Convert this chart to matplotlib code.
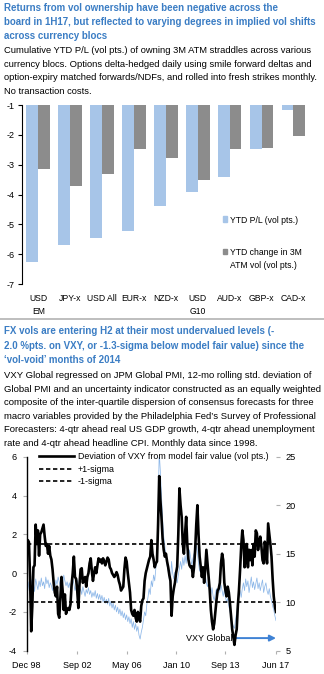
import matplotlib
matplotlib.use('Agg')
import matplotlib.pyplot as plt
from matplotlib.lines import Line2D
from matplotlib.patches import Rectangle
import numpy as np

plt.rcParams['font.family'] = ['Liberation Sans', 'DejaVu Sans']
plt.rcParams['axes.unicode_minus'] = False

W, H = 324, 674
TITLE_BLUE = '#3b7dc4'
LIGHT_BLUE = '#a7c5e8'
GREY_BAR = '#8c8c8c'
VXY_BLUE = '#8db7e8'
ARROW_BLUE = '#3f82d4'

# --- straddle P/L by currency bloc ---
blocs = ['USD\nEM', 'JPY-x', 'USD All', 'EUR-x', 'NZD-x', 'USD\nG10', 'AUD-x', 'GBP-x', 'CAD-x']
ytd_pl = [-6.25, -5.7, -5.45, -5.22, -4.38, -3.92, -3.4, -2.47, -1.17]
ytd_vol_chg = [-3.15, -3.7, -3.3, -2.48, -2.78, -3.52, -2.46, -2.44, -2.04]
bar_labels = ['YTD P/L (vol pts.)', 'YTD change in 3M\nATM vol (vol pts.)']

# --- VXY deviation from model fair value, monthly Dec 1998 .. Jun 2017 ---
vxy_dev = [
    1.7, 1.7, 1.6, -0.2, -3.0, -1.7, 0.3, 0.4, 2.5, 1.5, 2.2, 0.9,
    2.0, 2.1, 2.3, 2.5, 1.9, 1.4, 1.5, 1.0, 1.4, 0.9, 0.7, 0.2,
    -0.5, -1.0, -1.2, -0.7, -2.1, -2.3, -1.2, -0.2, -0.9, -1.9, -1.1, -2.1,
    -1.9, -1.8, -1.9, -1.6, -0.6, 0.0, 0.85, -0.2, -0.3, -0.9, -1.8, -0.6,
    0.2, 0.25, -0.5, -0.3, -0.2, -0.7, -0.2, 0.0, 0.5, 0.76, 0.1, -0.4,
    0.0, 0.3, 0.0, 0.4, 0.76, 0.6, 0.7, 0.5, 0.76, 0.6, 0.4, 0.6,
    0.8, 0.7, 0.3, 0.2, 0.0, -0.1, -0.2, -0.1, 0.05, -0.1, -0.4, -0.6,
    -0.9, -0.8, -0.7, 0.2, 0.8, 0.6, 0.0, -0.5, -1.0, -1.9, -2.1, -2.2,
    -1.9, -2.3, -2.5, -2.0, -2.3, -2.5, -1.7, -1.4, -1.3, -0.4, 0.0, 0.24,
    0.5, 0.7, 0.85, 1.7, 1.0, 0.7, 0.3, 0.5, 0.6, 2.5, 5.0, 3.8,
    2.9, 1.8, 1.2, 0.85, 1.0, 0.6, 0.3, -0.1, -0.4, -2.2, -1.2, -0.8,
    -0.5, 0.0, 0.33, 2.0, 4.37, 3.5, 2.9, 1.5, 1.0, 2.0, 2.9, 1.5,
    0.7, 0.4, 0.3, 0.35, -0.2, 0.3, 1.2, 2.5, 3.5, 2.0, 0.85, 0.3,
    -0.2, 0.3, -0.5, 0.2, 1.2, 0.5, -0.2, -0.9, -1.9, -2.5, -2.9, -2.6,
    -2.0, -1.4, -0.9, -0.8, -0.5, 0.5, 1.0, 0.67, -0.5, -0.9, -1.2, -0.7,
    -1.0, -1.56, -2.2, -2.9, -3.3, -3.7, -3.2, -2.9, -1.7, -0.9, 0.16, 1.36,
    2.2, 1.7, 0.3, 0.85, 1.5, 0.3, 1.2, 0.67, 1.19, 0.4, 1.5, 0.85,
    2.2, 2.05, 1.19, 1.6, 1.88, 1.36, 0.67, 0.5, 1.62, 1.2, 0.5, 2.56,
    2.05, 1.5, 0.85, -0.3, -1.2, -1.73, -2.0,
]

# --- VXY Global level (right axis) ---
vxy_level = [
    11.6, 11.2, 12.1, 11.4, 12.3, 11.7, 12.0, 11.1, 12.4, 11.8, 11.3, 12.2,
    11.6, 12.5, 11.7, 12.1, 11.4, 12.6, 11.9, 12.3, 11.5, 12.0, 11.7, 11.2,
    12.0, 11.5, 12.3, 11.8, 12.6, 12.1, 11.6, 12.4, 11.9, 12.8, 12.2, 11.7,
    12.1, 11.5, 12.0, 11.3, 11.8, 12.4, 11.9, 11.2, 11.6, 12.3, 11.8, 11.0,
    11.4, 10.8, 11.6, 11.1, 10.6, 11.3, 10.9, 11.5, 10.8, 11.2, 10.5, 11.0,
    10.6, 11.2, 10.4, 10.9, 10.3, 10.8, 10.2, 10.7, 10.0, 10.5, 9.9, 10.3,
    9.8, 10.4, 9.6, 10.1, 9.4, 9.9, 9.2, 9.7, 9.0, 9.5, 8.8, 9.3,
    8.6, 9.1, 8.4, 8.9, 8.2, 8.7, 8.0, 8.5, 7.8, 8.3, 7.4, 8.0,
    7.2, 7.8, 7.0, 7.5, 6.6, 6.2, 6.9, 7.4, 8.2, 9.0, 8.6, 9.8,
    10.5, 11.4, 10.8, 12.2, 11.6, 12.8, 12.2, 13.5, 15.0, 19.5, 25.5, 23.5,
    21.0, 18.6, 16.8, 15.8, 14.6, 13.8, 13.2, 12.4, 12.0, 14.2, 13.0, 12.4,
    13.1, 12.5, 12.0, 12.8, 13.5, 14.2, 13.4, 14.6, 13.8, 14.8, 14.0, 15.2,
    14.4, 15.4, 14.6, 13.8, 14.5, 15.0, 14.2, 16.0, 15.2, 14.0, 13.2, 13.8,
    12.8, 13.4, 12.4, 12.9, 12.0, 11.6, 12.2, 11.2, 10.8, 11.5, 10.6, 10.2,
    10.9, 11.4, 10.7, 11.6, 11.0, 11.8, 11.2, 10.6, 11.3, 10.5, 10.0, 10.4,
    9.6, 9.0, 8.5, 7.9, 7.5, 7.3, 8.2, 9.0, 9.8, 10.6, 11.2, 10.5,
    11.4, 12.0, 11.2, 12.4, 11.6, 12.2, 11.0, 11.8, 12.6, 11.5, 12.1, 11.3,
    11.9, 12.5, 11.4, 12.0, 11.2, 11.8, 12.3, 11.0, 11.6, 12.0, 11.2, 10.8,
    11.4, 10.6, 10.2, 9.6, 9.2, 8.6, 8.1,
]

sigma_band = 1.5
date_ticks = [0, 45, 89, 133, 177, 222]
date_labels = ['Dec 98', 'Sep 02', 'May 06', 'Jan 10', 'Sep 13', 'Jun 17']

title1 = ['Returns from vol ownership have been negative across the',
          'board in 1H17, but reflected to varying degrees in implied vol shifts',
          'across currency blocs']
sub1 = ['Cumulative YTD P/L (vol pts.) of owning 3M ATM straddles across various',
        'currency blocs. Options delta-hedged daily using smile forward deltas and',
        'option-expiry matched forwards/NDFs, and rolled into fresh strikes monthly.',
        'No transaction costs.']
title2 = ['FX vols are entering H2 at their most undervalued levels (-',
          '2.0 %pts. on VXY, or -1.3-sigma below model fair value) since the',
          '\u2018vol-void\u2019 months of 2014']
sub2 = ['VXY Global regressed on JPM Global PMI, 12-mo rolling std. deviation of',
        'Global PMI and an uncertainty indicator constructed as an equally weighted',
        'composite of the inter-quartile dispersion of consensus forecasts for three',
        'macro variables provided by the Philadelphia Fed\u2019s Survey of Professional',
        'Forecasters: 4-qtr ahead real US GDP growth, 4-qtr ahead unemployment',
        'rate and 4-qtr ahead headline CPI. Monthly data since 1998.']


def fx(px):
    return px / W


def fy(py):
    return 1 - py / H


fig = plt.figure(figsize=(W / 100, H / 100), dpi=100)

# header text, one line at a time (pixel baselines)
for i, line in enumerate(title1):
    fig.text(fx(4), fy(10.7 + 14.3 * i), line, fontsize=7.05, fontweight='bold',
             color=TITLE_BLUE, va='baseline')
for i, line in enumerate(sub1):
    fig.text(fx(4), fy(53.3 + 13.4 * i), line, fontsize=6.75, va='baseline')
for i, line in enumerate(title2):
    fig.text(fx(4), fy(334 + 14.7 * i), line, fontsize=7.05, fontweight='bold',
             color=TITLE_BLUE, va='baseline')
for i, line in enumerate(sub2):
    fig.text(fx(4), fy(378.3 + 13.45 * i), line, fontsize=6.8, va='baseline')

# separator
fig.add_artist(Line2D([0, 1], [fy(318.5), fy(318.5)], color='#b3b3b3', lw=1.2))

# ---- bar chart ----
ax1 = fig.add_axes([fx(21.7), fy(284), fx(310) - fx(21.7), fy(105) - fy(284)])
x = np.arange(len(blocs))
bw = 0.37
bar_colors = [LIGHT_BLUE, GREY_BAR]
ax1.bar(x - bw / 2, ytd_pl, bw, color=bar_colors[0])
ax1.bar(x + bw / 2, ytd_vol_chg, bw, color=bar_colors[1])
ax1.set_ylim(-7, -1)
ax1.set_xlim(-0.52, len(blocs) - 0.48)
ax1.set_yticks(range(-7, 0))
ax1.set_xticks(x)
ax1.set_xticklabels(blocs, fontsize=6.2, linespacing=1.6)
ax1.tick_params(axis='x', length=0, pad=7)
ax1.tick_params(axis='y', length=3, width=0.8, labelsize=6.5, pad=2)
for s in ['top', 'right', 'bottom']:
    ax1.spines[s].set_visible(False)
ax1.spines['left'].set_linewidth(0.8)

# small square markers with the first text line alongside
for i, (lab, col) in enumerate(zip(bar_labels, bar_colors)):
    yc = 219 + 32.5 * i
    fig.add_artist(Rectangle((fx(222.5), fy(yc + 2.8)), fx(4.5), 5.6 / H,
                             color=col, transform=fig.transFigure))
    for j, part in enumerate(lab.split('\n')):
        fig.text(fx(229.5), fy(yc + 13 * j), part, fontsize=6.2,
                 va='center_baseline', ha='left')

# ---- VXY deviation chart ----
ax2 = fig.add_axes([fx(26.7), fy(650.7), fx(276) - fx(26.7), fy(456.7) - fy(650.7)])
ax3 = ax2.twinx()
months = np.arange(len(vxy_dev))

ax3.plot(months, vxy_level, color=VXY_BLUE, lw=0.55)
ax3.set_ylim(5, 25)
ax3.set_yticks([5, 10, 15, 20, 25])

ax2.plot(months, vxy_dev, color='black', lw=1.9,
         label='Deviation of VXY from model fair value (vol pts.)')
ax2.axhline(sigma_band, color='black', lw=1.2, dashes=(2.6, 1.6), label='+1-sigma')
ax2.axhline(-sigma_band, color='black', lw=1.2, dashes=(2.6, 1.6), label='-1-sigma')
ax2.set_ylim(-4, 6)
ax2.set_yticks([-4, -2, 0, 2, 4, 6])
ax2.set_xlim(months[0], months[-1])
ax2.set_xticks(date_ticks)
ax2.set_xticklabels(date_labels)
ax2.set_zorder(ax3.get_zorder() + 1)
ax2.patch.set_visible(False)

for a in (ax2, ax3):
    for s in ['top', 'right', 'bottom']:
        a.spines[s].set_visible(False)
ax3.spines['left'].set_visible(False)
ax2.spines['left'].set_linewidth(1.0)
ax2.tick_params(axis='y', length=3, color='#b0b0b0', labelsize=6.6, pad=4)
ax2.tick_params(axis='x', length=2.5, color='#b0b0b0', labelsize=6.5, pad=5)
ax3.tick_params(axis='y', length=3, color='#b0b0b0', labelsize=6.6, pad=4)

# VXY Global label with arrow pointing to the right axis
lab_y = 6.3
ax3.text(183, lab_y, 'VXY Global', fontsize=6.5, ha='right', va='center')
ax3.annotate('', xy=(months[-1], lab_y), xytext=(185, lab_y),
             arrowprops=dict(arrowstyle='-|>', color=ARROW_BLUE, lw=1.4,
                             mutation_scale=9, shrinkA=0, shrinkB=0))

ax2.legend(loc='upper left', bbox_to_anchor=(fx(39), fy(452)),
           bbox_transform=fig.transFigure, frameon=False, fontsize=6.4,
           handlelength=3.9, handletextpad=0.45, labelspacing=0.42,
           borderpad=0, borderaxespad=0)

fig.savefig('out.png', dpi=100)
